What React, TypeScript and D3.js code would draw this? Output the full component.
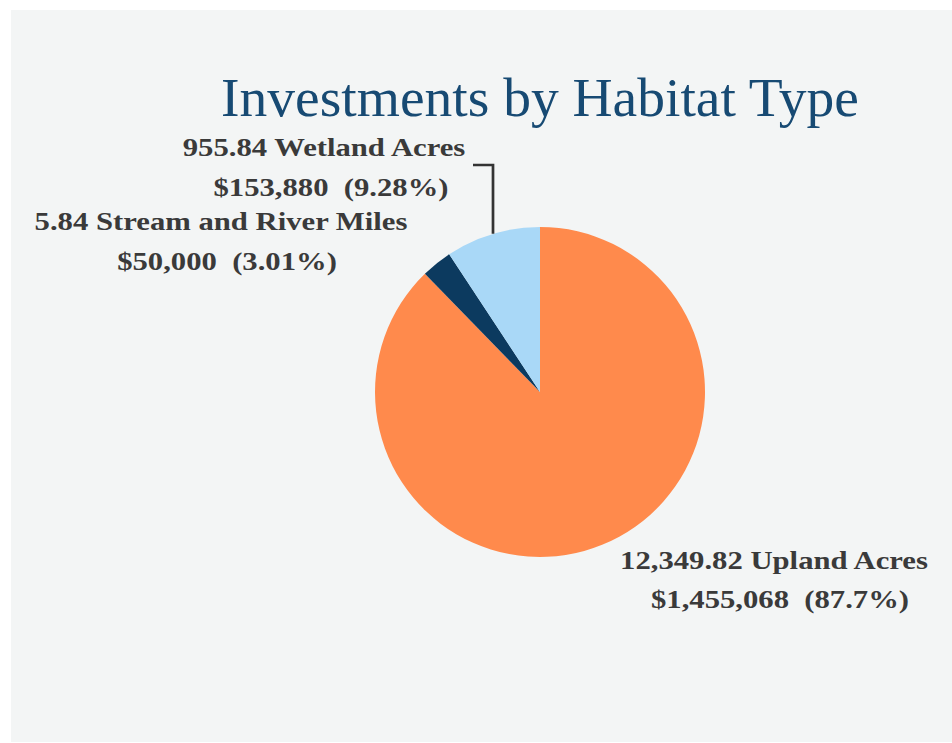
import React from "react";
import * as d3 from "d3";

const categories = ["Upland", "Stream", "Wetland"];
const values = [1455068, 50000, 153880];
const colors = ["#FF8A4C", "#0C3A5F", "#A9D8F7"];
const labelLines = [
  ["12,349.82 Upland Acres", "$1,455,068  (87.7%)"],
  ["5.84 Stream and River Miles", "$50,000  (3.01%)"],
  ["955.84 Wetland Acres", "$153,880  (9.28%)"],
];
const title = "Investments by Habitat Type";

const W = 952;
const H = 743;
const cx = 540;
const cy = 392;
const R = 165;

// [x center, baseline] for each label line
const labelPos: [number, number][][] = [
  [[774, 569], [780, 608]],
  [[221, 230], [227, 270]],
  [[324, 156], [331, 196]],
];

export default function App() {
  const data = categories.map((c, i) => ({ c, v: values[i], i }));
  const pie = d3.pie<any>().sort(null).value((d) => d.v);
  const arcs = pie(data);
  const arc = d3.arc<any>().innerRadius(0).outerRadius(R);
  const lx = 493;
  const ly = cy - Math.sqrt(R * R - (lx - cx) * (lx - cx));
  return (
    <svg
      width={W}
      height={H}
      style={{ position: "absolute", left: 0, top: 0 }}
    >
      <rect x={0} y={0} width={W} height={H} fill="#ffffff" />
      <rect x={11} y={10} width={W - 11} height={732} fill="#F3F5F5" />
      <text
        x={540}
        y={116}
        textAnchor="middle"
        fontFamily="'Liberation Serif', 'Times New Roman', serif"
        fontSize={55.5}
        fill="#174A73"
      >
        {title}
      </text>
      <g transform={`translate(${cx},${cy})`}>
        {arcs.map((a, i) => (
          <path key={i} d={arc(a) as string} fill={colors[i]} />
        ))}
      </g>
      <path
        d={`M${473},${165} L${lx},${165} L${lx},${ly}`}
        fill="none"
        stroke="#333333"
        strokeWidth={2.7}
      />
      {labelLines.map((lines, i) =>
        lines.map((line, j) => (
          <text
            key={`${i}-${j}`}
            transform={`translate(${labelPos[i][j][0]},${labelPos[i][j][1]}) scale(1.18,1)`}
            x={0}
            y={0}
            textAnchor="middle"
            fontFamily="'Liberation Serif', 'Times New Roman', serif"
            fontWeight="bold"
            fontSize={26}
            fill="#3A3A3A"
            style={{ whiteSpace: "pre" }}
          >
            {line}
          </text>
        ))
      )}
    </svg>
  );
}
